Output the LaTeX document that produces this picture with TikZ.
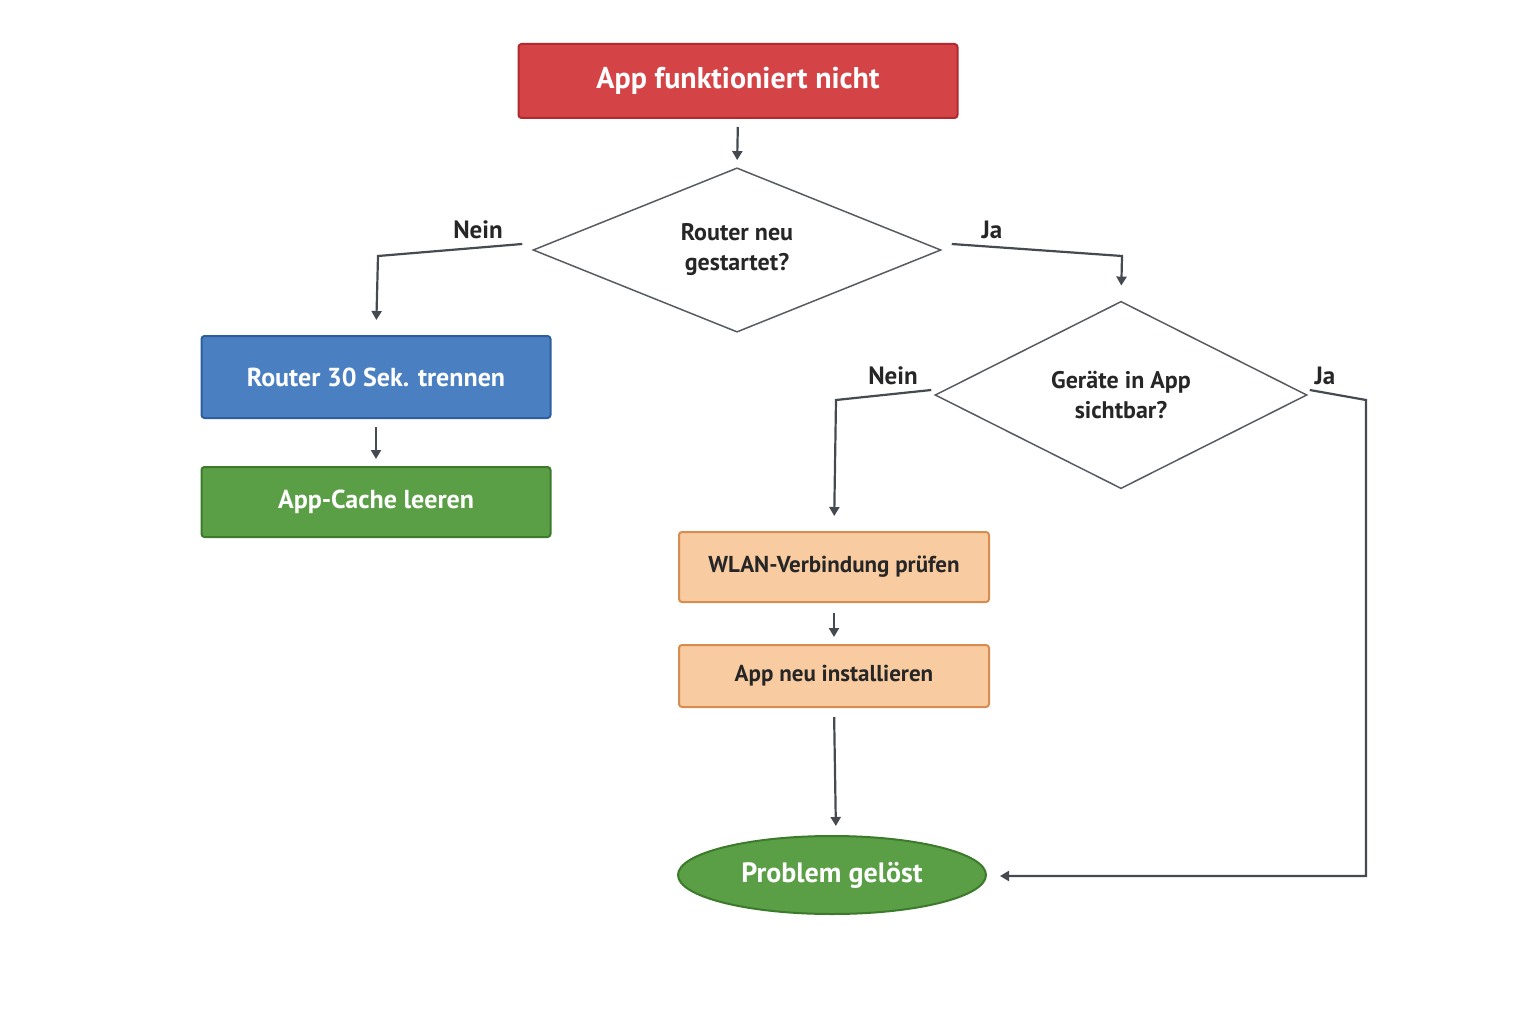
\documentclass[tikz,border=0pt]{standalone}
\usepackage{fontspec}
\setmainfont{PT Sans}
\usetikzlibrary{shapes.geometric,arrows.meta}
\definecolor{redf}{HTML}{D44447}\definecolor{redd}{HTML}{B02A30}
\definecolor{bluef}{HTML}{4A7FC1}\definecolor{blued}{HTML}{2F5E9E}
\definecolor{greenf}{HTML}{5A9E45}\definecolor{greend}{HTML}{3C7A2C}
\definecolor{orf}{HTML}{F8CBA0}\definecolor{ord}{HTML}{D98C50}
\definecolor{ln}{HTML}{454A50}
\tikzset{
 box/.style={rectangle,rounded corners=3pt,line width=2pt,inner sep=0pt,text=white,font=\fontsize{26}{30}\selectfont\bfseries},
 obox/.style={box,fill=orf,draw=ord,text=black!85,font=\fontsize{23}{28}\selectfont\bfseries,minimum width=310pt},
 dia/.style={diamond,draw=ln!90,line width=1.5pt,fill=white,inner sep=0pt,align=center,text=black!85,font=\fontsize{24}{30}\selectfont\bfseries},
 conn/.style={draw=ln,line width=2.2pt,-{Triangle[length=9pt,width=10pt]}},
 lbl/.style={font=\fontsize{25}{30}\selectfont\bfseries,text=black!85}
}
\begin{document}
\begin{tikzpicture}[x=1pt,y=-1pt]
\useasboundingbox (0,0) rectangle (1536,1024);
\node[box,fill=redf,draw=redd,minimum width=439pt,minimum height=74pt,font=\fontsize{30}{34}\selectfont\bfseries] (start) at (738,81) {App funktioniert nicht};
\node[dia,minimum width=408pt,minimum height=143pt] (d1) at (737,250) {Router neu\\gestartet?};
\node[box,fill=bluef,draw=blued,minimum width=349pt,minimum height=82pt] (b1) at (376,377) {Router 30 Sek. trennen};
\node[box,fill=greenf,draw=greend,minimum width=349pt,minimum height=70pt] (b2) at (376,502) {App-Cache leeren};
\node[dia,minimum width=372pt,minimum height=144pt] (d2) at (1121,395) {Geräte in App\\sichtbar?};
\node[obox,minimum height=70pt] (o1) at (834,567) {WLAN-Verbindung prüfen};
\node[obox,minimum height=62pt] (o2) at (834,676) {App neu installieren};
\node[ellipse,draw=greend,fill=greenf,line width=2pt,minimum width=308pt,minimum height=78pt,inner sep=0pt,text=white,font=\fontsize{28}{32}\selectfont\bfseries] (end) at (832,875) {Problem gelöst};
\coordinate (c1) at (378,256);\coordinate (c2) at (1122,256);
\coordinate (c3) at (836,400);\coordinate (c4) at (1366,400);\coordinate (c5) at (1366,876);
\draw[conn,shorten <=8pt,shorten >=7pt] (start.south) -- (d1.north);
\draw[conn,shorten >=15pt] ([xshift=-10pt,yshift=6pt]d1.west) -- (c1) -- (b1.north);
\draw[conn,shorten >=15pt] ([xshift=10pt,yshift=6pt]d1.east) -- (c2) -- (d2.north);
\draw[conn,shorten <=8pt,shorten >=7pt] (b1.south) -- (b2.north);
\draw[conn,shorten >=15pt] ([xshift=-3pt,yshift=5pt]d2.west) -- (c3) -- (o1.north);
\draw[conn,shorten <=10pt,shorten >=7pt] (o1.south) -- (o2.north);
\draw[conn,shorten <=9pt,shorten >=9pt] (o2.south) -- ([xshift=4pt]end.north);
\draw[conn,shorten >=13pt] ([xshift=2pt,yshift=5pt]d2.east) -- (c4) -- (c5) -- (end.east|-c5);
\node[lbl] (n1) at (478,230) {Nein};
\node[lbl] (j1) at (992,230) {Ja};
\node[lbl] (n2) at (893,376) {Nein};
\node[lbl] (j2) at (1325,376) {Ja};
\end{tikzpicture}
\end{document}
